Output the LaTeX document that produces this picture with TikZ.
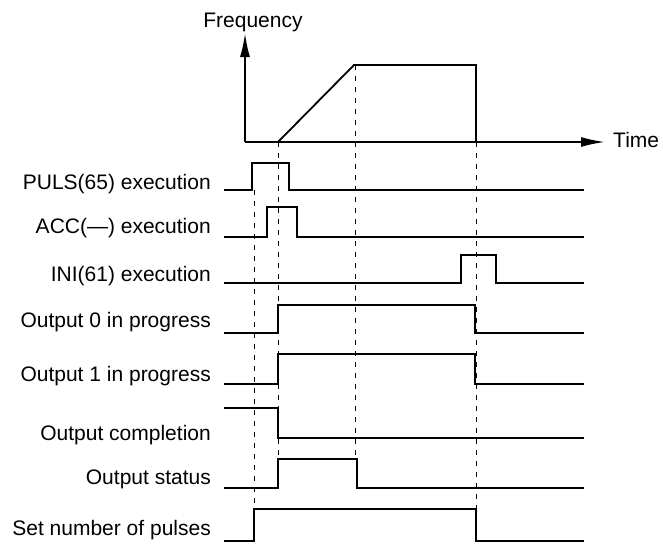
\documentclass[tikz,border=0pt]{standalone}
\usepackage{fontspec}
\setmainfont{Liberation Sans}
\usetikzlibrary{arrows.meta}
\begin{document}
\begin{tikzpicture}[x=1pt,y=-1pt,
  sig/.style={line width=1.8pt, line join=miter},
  axisline/.style={line width=2pt, -{Latex[length=24pt,width=10pt]}},
  guide/.style={line width=1pt, dash pattern=on 5pt off 6pt},
  lbl/.style={anchor=base east, font=\fontsize{21}{25}\selectfont, inner sep=0pt},
  ttl/.style={font=\fontsize{21}{25}\selectfont, inner sep=0pt}]
\fill[white] (0,0) rectangle (663,544);
\useasboundingbox (0,0) rectangle (663,544);

% guide lines
\draw[guide] (254,190) -- (254,509);
\draw[guide] (278,142) -- (278,459);
\draw[guide] (355,65) -- (355,459);
\draw[guide] (476,142) -- (476,509);

% frequency graph
\draw[axisline] (245,142) -- (245,33);
\draw[axisline] (245,142) -- (605,142);
\draw[sig] (278,142) -- (354,65) -- (476,65) -- (476,142);
\node[ttl, anchor=base] (freq) at (253,27) {Frequency};
\node[ttl, anchor=base west] (time) at (613,147) {Time};

% signals
\draw[sig] (224,190) -| (252,163) -| (289,190) -- (584,190);
\draw[sig] (224,237) -| (267,207) -| (297,237) -- (584,237);
\draw[sig] (224,283) -| (461,255) -| (496,283) -- (584,283);
\draw[sig] (224,333) -| (278,305) -| (475,333) -- (584,333);
\draw[sig] (224,384) -| (278,354) -| (475,384) -- (584,384);
\draw[sig] (224,408) -| (278,438) -- (584,438);
\draw[sig] (224,488) -| (278,459) -| (357,488) -- (584,488);
\draw[sig] (224,541) -| (254,509) -| (476,541) -- (584,541);

% labels
\node[lbl] (puls) at (211,189) {PULS(65) execution};
\node[lbl] (acc)  at (211,233) {ACC(—) execution};
\node[lbl] (ini)  at (211,281) {INI(61) execution};
\node[lbl] (o0)   at (211,327) {Output 0 in progress};
\node[lbl] (o1)   at (211,381) {Output 1 in progress};
\node[lbl] (oc)   at (211,440) {Output completion};
\node[lbl] (os)   at (211,484) {Output status};
\node[lbl] (sn)   at (211,535) {Set number of pulses};
\end{tikzpicture}
\end{document}
